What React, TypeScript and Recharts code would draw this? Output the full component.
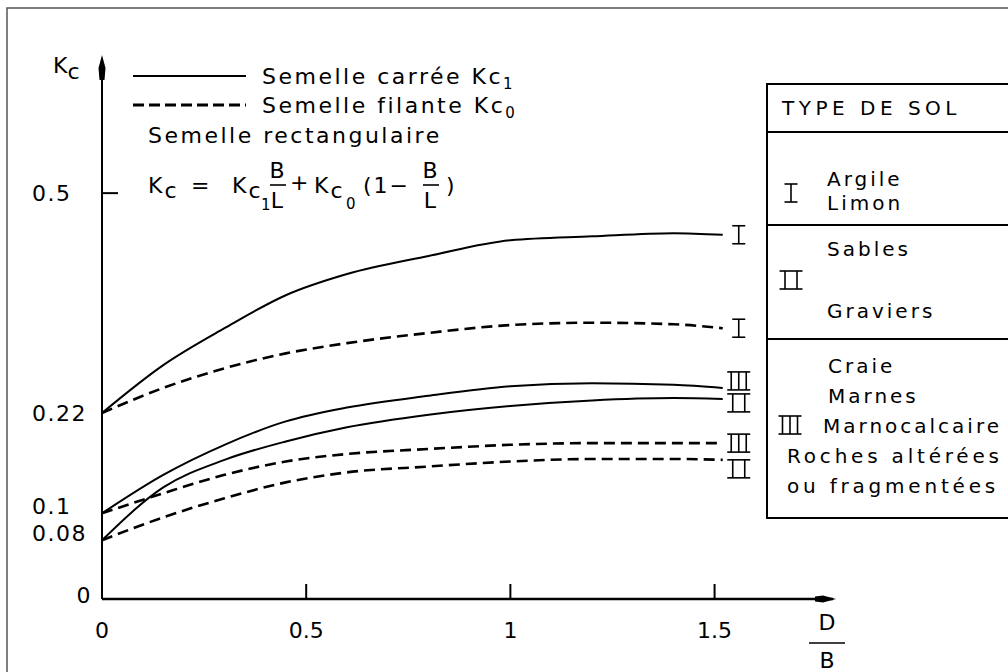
import React from "react";
import { LineChart, Line, XAxis, YAxis } from "recharts";

// D/B
const ratio = [0, 0.15, 0.3, 0.45, 0.6, 0.8, 1.0, 1.2, 1.4, 1.52];

// Kc1 : semelle carrée, Kc0 : semelle filante (I, II, III = type de sol)
const carreeI = [0.22, 0.281, 0.328, 0.37, 0.397, 0.42, 0.44, 0.445, 0.449, 0.447];
const filanteI = [0.22, 0.252, 0.277, 0.296, 0.309, 0.322, 0.332, 0.335, 0.333, 0.328];
const carreeIII = [0.1, 0.146, 0.182, 0.21, 0.227, 0.242, 0.254, 0.258, 0.256, 0.252];
const carreeII = [0.08, 0.131, 0.164, 0.186, 0.203, 0.218, 0.229, 0.236, 0.239, 0.238];
const filanteIII = [0.1, 0.124, 0.146, 0.162, 0.171, 0.177, 0.182, 0.184, 0.184, 0.184];
const filanteII = [0.08, 0.097, 0.118, 0.137, 0.149, 0.156, 0.162, 0.165, 0.165, 0.164];

const xTicks = [0, 0.5, 1, 1.5];
const yTicks = [0, 0.08, 0.1, 0.22, 0.5];

const FONT = "'DejaVu Sans', sans-serif";
const LEFT = 102;
const TOP = 60;
const AXIS_Y = 599;
const X_END = 833;
const AXIS_BAND = 30;

// the Kc axis of the original drawing is not to scale:
// graduation values and where they sit (fraction of the axis height)
const kcKnots = [0, 0.08, 0.1, 0.22, 0.5, 0.67];
const kcStops = [0, 0.109, 0.159, 0.345, 0.753, 1];

function kcScale(domain: number[] = [0, 0.67], range: number[] = [0, 1]): any {
  const frac = (v: number) => {
    for (let i = 1; i < kcKnots.length; i++) {
      if (v <= kcKnots[i] || i === kcKnots.length - 1) {
        const t = (v - kcKnots[i - 1]) / (kcKnots[i] - kcKnots[i - 1]);
        return kcStops[i - 1] + t * (kcStops[i] - kcStops[i - 1]);
      }
    }
    return 0;
  };
  const s: any = (v: number) => range[0] + frac(Number(v)) * (range[1] - range[0]);
  s.domain = (d?: number[]) => (d ? kcScale(d, range) : domain);
  s.range = (r?: number[]) => (r ? kcScale(domain, r) : range);
  s.copy = () => kcScale(domain, range);
  s.ticks = () => yTicks;
  s.tickFormat = () => (v: number) => String(v);
  s.nice = () => s;
  s.clamp = () => s;
  s.invert = (px: number) => {
    const f = (px - range[0]) / (range[1] - range[0]);
    for (let i = 1; i < kcStops.length; i++) {
      if (f <= kcStops[i] || i === kcStops.length - 1) {
        const t = (f - kcStops[i - 1]) / (kcStops[i] - kcStops[i - 1]);
        return kcKnots[i - 1] + t * (kcKnots[i] - kcKnots[i - 1]);
      }
    }
    return 0;
  };
  return s;
}

const rows = ratio.map((x, i) => ({
  x,
  carreeI: carreeI[i],
  filanteI: filanteI[i],
  carreeIII: carreeIII[i],
  carreeII: carreeII[i],
  filanteIII: filanteIII[i],
  filanteII: filanteII[i],
}));

const series = [
  { key: "carreeI", dashed: false, n: 1, dy: 0 },
  { key: "filanteI", dashed: true, n: 1, dy: 0 },
  { key: "carreeIII", dashed: false, n: 3, dy: -7 },
  { key: "carreeII", dashed: false, n: 2, dy: 4 },
  { key: "filanteIII", dashed: true, n: 3, dy: 0 },
  { key: "filanteII", dashed: true, n: 2, dy: 9 },
];

const Roman = ({ cx, cy, n, h = 18 }: { cx: number; cy: number; n: number; h?: number }) => {
  const w = n === 1 ? 13 : 23;
  const gap = n === 2 ? 12 : 7.5;
  const stems = Array.from({ length: n }, (_, i) => cx + (i - (n - 1) / 2) * gap);
  return (
    <g stroke="#000" strokeWidth={1.6} fill="none">
      <line x1={cx - w / 2} x2={cx + w / 2} y1={cy - h / 2} y2={cy - h / 2} />
      <line x1={cx - w / 2} x2={cx + w / 2} y1={cy + h / 2} y2={cy + h / 2} />
      {stems.map((sx, i) => (
        <line key={i} x1={sx} x2={sx} y1={cy - h / 2} y2={cy + h / 2} />
      ))}
    </g>
  );
};

const KcTick = (p: any) => {
  const v = p.payload.value;
  // the low graduations are written slightly above their mark
  const lift = v === 0 ? 4 : v < 0.2 ? 7 : 0;
  return (
    <g>
      {v === 0.5 && (
        <line x1={LEFT} x2={LEFT + 16} y1={p.y} y2={p.y} stroke="#000" strokeWidth={2} />
      )}
      <text
        x={v === 0 ? 92 : 32}
        y={p.y + 8 - lift}
        textAnchor={v === 0 ? "end" : "start"}
        fontFamily={FONT}
        fontSize={22}
        letterSpacing={1.5}
        fill="#000"
      >
        {String(v)}
      </text>
    </g>
  );
};

const RatioTick = (p: any) => {
  const v = p.payload.value;
  return (
    <g>
      {v !== 0 && (
        <line x1={p.x} x2={p.x} y1={AXIS_Y} y2={AXIS_Y - 15} stroke="#000" strokeWidth={2} />
      )}
      <text x={p.x} y={AXIS_Y + 39} textAnchor="middle" fontFamily={FONT} fontSize={22} fill="#000">
        {String(v)}
      </text>
    </g>
  );
};

const Frac = ({ cx }: { cx: number }) => (
  <g>
    <text x={cx} y={178} textAnchor="middle">B</text>
    <line x1={cx - 8} x2={cx + 8} y1={185} y2={185} stroke="#000" strokeWidth={1.6} />
    <text x={cx} y={208} textAnchor="middle">L</text>
  </g>
);

const Notes = () => (
  <svg
    width={1008}
    height={672}
    style={{ position: "absolute", left: 0, top: 0, pointerEvents: "none" }}
    fontFamily={FONT}
    fill="#000"
  >
    <path d="M7 672 V8 H1008" fill="none" stroke="#555" strokeWidth={1.5} />

    {/* axis arrows */}
    <path d="M102 55 L105.5 68 L104.5 80 L99.5 80 L98.5 68 Z" />
    <path d="M836 599 L823 595.5 L815 596.5 L815 601.5 L823 602.5 Z" />
    <text x={53} y={73} fontSize={22}>
      K<tspan dy={6}>c</tspan>
    </text>
    <text x={827} y={630} fontSize={22} textAnchor="middle">D</text>
    <line x1={809} x2={845} y1={643} y2={643} stroke="#000" strokeWidth={1.6} />
    <text x={827} y={668} fontSize={22} textAnchor="middle">B</text>

    {/* legend */}
    <line x1={133} x2={246} y1={76} y2={76} stroke="#000" strokeWidth={2} />
    <line x1={133} x2={246} y1={105} y2={105} stroke="#000" strokeWidth={3} strokeDasharray="11 5" />
    <g fontSize={22} letterSpacing={2.5}>
      <text x={262} y={84}>
        Semelle carrée Kc<tspan dy={5} fontSize={15}>1</tspan>
      </text>
      <text x={262} y={113}>
        Semelle filante Kc<tspan dy={5} fontSize={15}>0</tspan>
      </text>
      <text x={148} y={143}>Semelle rectangulaire</text>
    </g>
    <g fontSize={22} letterSpacing={2}>
      <text x={148} y={193}>
        K<tspan dy={5}>c</tspan>
      </text>
      <text x={191} y={193}>=</text>
      <text x={232} y={193}>
        K<tspan dy={5}>c</tspan>
      </text>
      <text x={261} y={210} fontSize={15}>1</text>
      <Frac cx={278} />
      <text x={290} y={190}>+</text>
      <text x={314} y={193}>
        K<tspan dy={5}>c</tspan>
      </text>
      <text x={346} y={209} fontSize={15}>0</text>
      <text x={363} y={193}>(1−</text>
      <Frac cx={431} />
      <text x={446} y={193}>)</text>
    </g>

    {/* type de sol */}
    <g fill="none" stroke="#000" strokeWidth={2}>
      <rect x={767} y={84} width={260} height={434} />
      <line x1={767} x2={1008} y1={132} y2={132} />
      <line x1={767} x2={1008} y1={225} y2={225} />
      <line x1={767} x2={1008} y1={339} y2={339} />
    </g>
    <g fontSize={20} letterSpacing={3}>
      <text x={782} y={115} letterSpacing={4.5}>TYPE DE SOL</text>
      <text x={827} y={186}>Argile</text>
      <text x={827} y={210}>Limon</text>
      <text x={827} y={256}>Sables</text>
      <text x={827} y={318}>Graviers</text>
      <text x={828} y={373}>Craie</text>
      <text x={828} y={403}>Marnes</text>
      <text x={823} y={433}>Marnocalcaire</text>
      <text x={787} y={463} letterSpacing={3.8}>Roches altérées</text>
      <text x={787} y={493} letterSpacing={3.8}>ou fragmentées</text>
    </g>
    <Roman cx={791} cy={193} n={1} />
    <Roman cx={791} cy={280} n={2} />
    <Roman cx={790} cy={425} n={3} />
  </svg>
);

export default function App() {
  return (
    <div style={{ position: "absolute", left: 0, top: 0, width: 1008, height: 672, background: "#fff" }}>
      <LineChart
        width={1008}
        height={672}
        data={rows}
        margin={{ top: TOP, right: 1008 - X_END, bottom: 672 - AXIS_Y - AXIS_BAND, left: LEFT - AXIS_BAND }}
      >
        <XAxis
          dataKey="x"
          type="number"
          domain={[0, 1.79]}
          ticks={xTicks}
          interval={0}
          height={AXIS_BAND}
          tickLine={false}
          axisLine={{ stroke: "#000", strokeWidth: 2.5 }}
          tick={<RatioTick />}
        />
        <YAxis
          type="number"
          domain={[0, 0.67]}
          scale={kcScale()}
          ticks={yTicks}
          interval={0}
          width={AXIS_BAND}
          tickLine={false}
          axisLine={{ stroke: "#000", strokeWidth: 2 }}
          tick={<KcTick />}
        />
        {series.map((s) => (
          <Line
            key={s.key}
            dataKey={s.key}
            type="monotone"
            stroke="#000"
            strokeWidth={s.dashed ? 2.6 : 2}
            strokeDasharray={s.dashed ? "11 6" : undefined}
            isAnimationActive={false}
            dot={(p: any) => (
              <g key={`${s.key}-${p.index}`}>
                {p.index === ratio.length - 1 && <Roman cx={p.cx + 16} cy={p.cy + s.dy} n={s.n} />}
              </g>
            )}
            activeDot={false}
          />
        ))}
      </LineChart>
      <Notes />
    </div>
  );
}
